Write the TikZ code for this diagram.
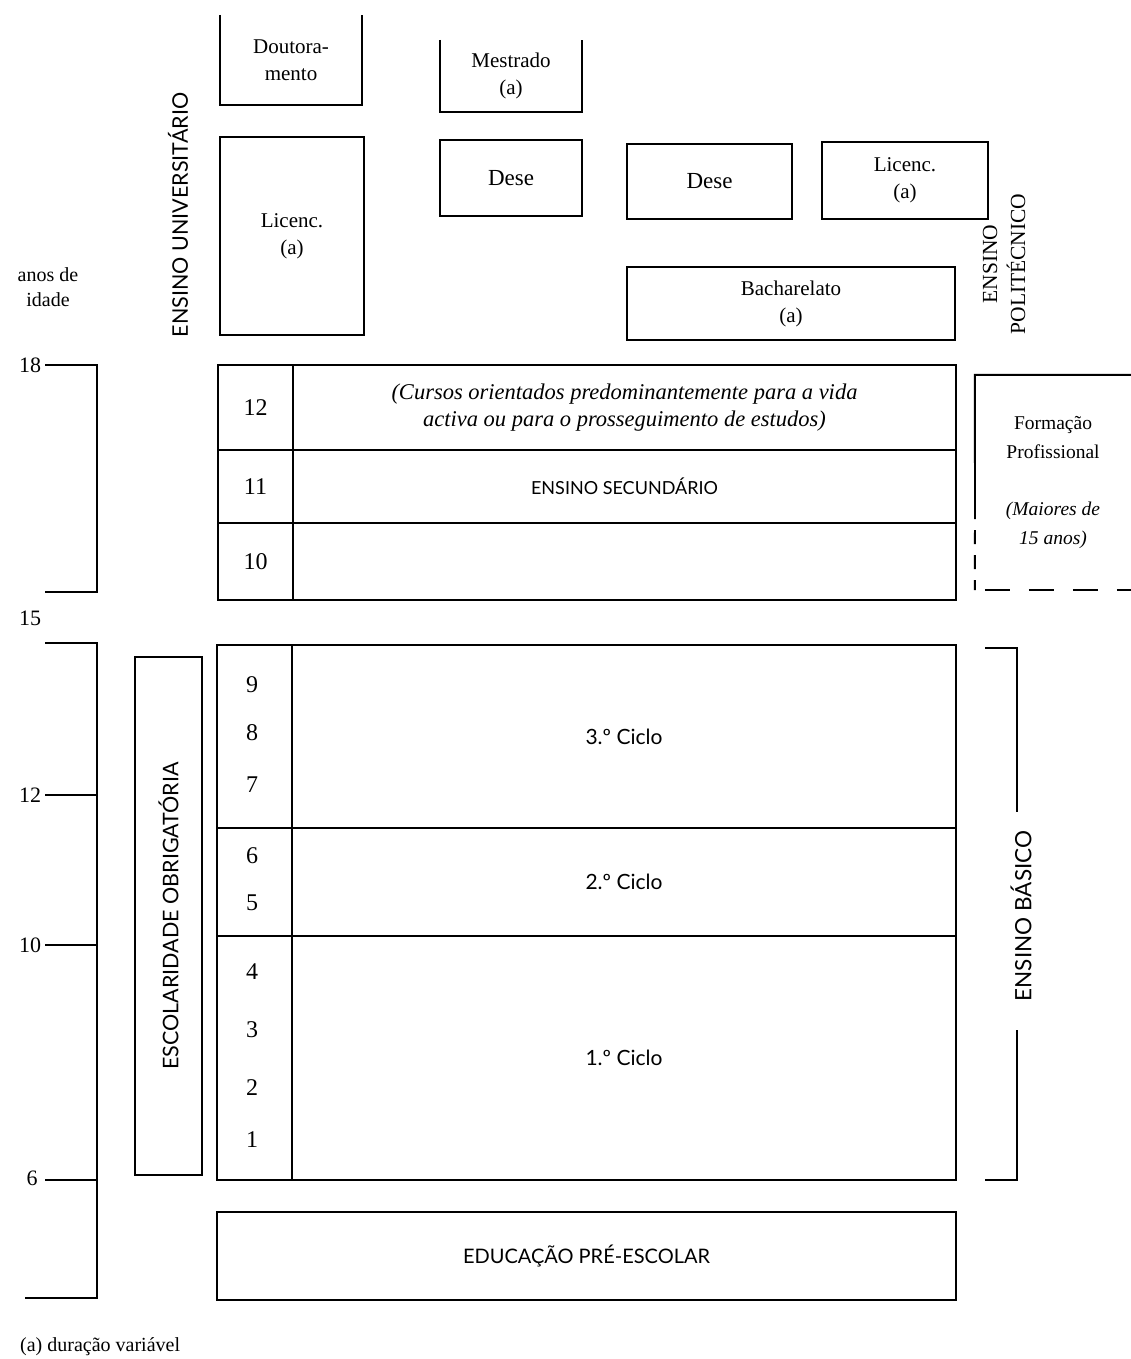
\documentclass[tikz,border=0pt]{standalone}
\usepackage{fontspec}
\setmainfont{Liberation Serif}
\newfontfamily\gill{Lato}
\begin{document}
\begin{tikzpicture}[x=1pt,y=-1pt,
  lw/.style={line width=1.9pt},
  box/.style={draw, lw, inner sep=0pt, align=center, font=\fontsize{21}{27}\selectfont},
  plain/.style={inner sep=0pt, align=center, font=\fontsize{21}{27}\selectfont},
  sanslab/.style={inner sep=0pt, align=center, font=\gill\fontsize{21.5}{25}\selectfont},
  agelab/.style={inner sep=0pt, font=\fontsize{22}{25}\selectfont},
  numlab/.style={inner sep=0pt, font=\fontsize{24}{26}\selectfont},
  dsh/.style={lw, dash pattern=on 14pt off 11pt}
]
\useasboundingbox (0,0) rectangle (1131,1359);

% ---- higher education ----
\node[plain, minimum width=142, minimum height=90] (dout) at (291,60) {Doutora-\\mento};
\draw[lw] (dout.north west) -- (dout.south west) -- (dout.south east) -- (dout.north east);
\node[plain, minimum width=142, minimum height=72] (mest) at (511,76) {Mestrado\\(a)};
\draw[lw] (mest.north west) -- (mest.south west) -- (mest.south east) -- (mest.north east);
\node[box, minimum width=144, minimum height=198] (licu) at (292,236) {Licenc.\\(a)};
\node[box, minimum width=142, minimum height=76] (dese1) at (511,178) {\fontsize{23}{27}\selectfont Dese};
\node[box, minimum width=165, minimum height=75] (dese2) at (709.5,181.5) {\fontsize{23}{27}\selectfont Dese};
\node[box, minimum width=166, minimum height=77] (licp) at (905,180.5) {Licenc.\\(a)};
\node[box, minimum width=328, minimum height=73] (bach) at (791,303.5) {Bacharelato\\(a)};
\node[sanslab, rotate=90] (univ) at (178,215) {ENSINO UNIVERSITÁRIO};
\node[plain, rotate=90, font=\fontsize{21.5}{28}\selectfont] (poli) at (1004,264) {ENSINO\\POLITÉCNICO};
\node[plain, font=\fontsize{20}{25}\selectfont] (anos) at (48,287) {anos de\\idade};

% ---- secondary ----
\node[box, minimum width=75, minimum height=85] (n12) at (255.5,407.5) {};
\node[box, minimum width=663, minimum height=85] (r12) at (624.5,407.5)
  {\itshape\fontsize{22.5}{28}\selectfont (Cursos orientados predominantemente para a vida\\ \itshape\fontsize{22.5}{28}\selectfont activa ou para o prosseguimento de estudos)};
\node[box, minimum width=75, minimum height=73] (n11) at (255.5,486.5) {};
\node[box, minimum width=663, minimum height=73] (r11) at (624.5,486.5) {\gill\fontsize{18}{23}\selectfont ENSINO SECUNDÁRIO};
\node[box, minimum width=75, minimum height=77] (n10) at (255.5,561.5) {};
\node[box, minimum width=663, minimum height=77] (r10) at (624.5,561.5) {};
\node[numlab] (t12) at (n12.center) {12};
\node[numlab] (t11) at (n11.center) {11};
\node[numlab] (t10) at (n10.center) {10};

% ---- Formacao Profissional ----
\node[plain, minimum width=156, minimum height=215, font=\fontsize{19.5}{29}\selectfont] (fp) at (1053,482.5)
  {Formação\\Profissional\\[28pt]{\itshape (Maiores de}\\{\itshape 15 anos)}};
\coordinate (fpmid) at (975,505);
\draw[lw] (fp.north east) -- (fp.north west) -- (fpmid);
\draw[dsh] (fpmid) -- (fp.south west);
\draw[lw, dash pattern=on 25pt off 19pt] (fp.south west) ++(10,0) -- (fp.south east);

% ---- basic education ----
\node[box, minimum width=75, minimum height=183] (nc3) at (254.5,736.5) {};
\node[box, minimum width=664, minimum height=183] (c3) at (624,736.5) {\gill\fontsize{21}{24}\selectfont 3.º Ciclo};
\node[box, minimum width=75, minimum height=108] (nc2) at (254.5,882) {};
\node[box, minimum width=664, minimum height=108] (c2) at (624,882) {\gill\fontsize{21}{24}\selectfont 2.º Ciclo};
\node[box, minimum width=75, minimum height=244] (nc1) at (254.5,1058) {};
\node[box, minimum width=664, minimum height=244] (c1) at (624,1058) {\gill\fontsize{21}{24}\selectfont 1.º Ciclo};
\foreach \n/\y in {9/685,8/733,7/785,6/856,5/903,4/972,3/1030,2/1088,1/1140}
  \node[numlab] (g\n) at (252,\y) {\n};
\node[box, minimum width=67, minimum height=518] (esc) at (168.5,916) {};
\node[sanslab, rotate=90] (esct) at (esc.center) {ESCOLARIDADE OBRIGATÓRIA};

% ---- pre-school ----
\node[box, minimum width=739, minimum height=88] (pre) at (586.5,1256) {\gill\fontsize{20}{23}\selectfont EDUCAÇÃO PRÉ-ESCOLAR};

% ---- Ensino Basico bracket ----
\node[sanslab, rotate=90, font=\gill\fontsize{22.5}{25}\selectfont] (basico) at (1021,916) {ENSINO BÁSICO};
\coordinate (bb1) at (985,648);
\coordinate (bb2) at (1017,648);
\coordinate (bb3) at (1017,812);
\coordinate (bb4) at (1017,1030);
\coordinate (bb5) at (1017,1180);
\coordinate (bb6) at (985,1180);
\draw[lw] (bb1) -- (bb2) -- (bb3);
\draw[lw] (bb4) -- (bb5) -- (bb6);

% ---- age scale ----
\coordinate (a18) at (97,365);
\coordinate (a15b) at (97,592);
\coordinate (a15) at (97,643);
\coordinate (a12) at (97,795);
\coordinate (a10) at (97,945);
\coordinate (a6) at (97,1180);
\coordinate (a3) at (97,1298);
\node[agelab] (l18) at (30,365) {18};
\node[agelab] (l15) at (30,618) {15};
\node[agelab] (l12) at (30,795) {12};
\node[agelab] (l10) at (30,945) {10};
\node[agelab] (l6) at (32,1178) {6};
\draw[lw] (45,365) -- (a18) -- (a15b) -- (45,592);
\draw[lw] (45,643) -- (a15) -- (a3) -- (25,1298);
\draw[lw] (45,795) -- (a12);
\draw[lw] (45,945) -- (a10);
\draw[lw] (45,1180) -- (a6);

% ---- footnote ----
\node[plain, anchor=west, font=\fontsize{20}{22}\selectfont] (nota) at (20,1347) {(a) duração variável};
\end{tikzpicture}
\end{document}
